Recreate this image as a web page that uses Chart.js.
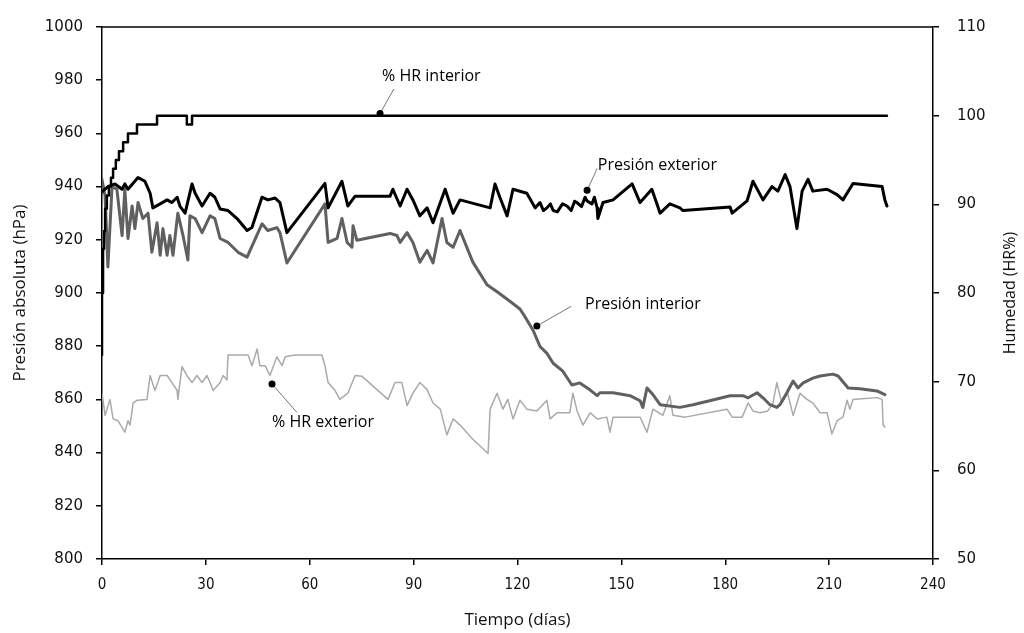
<!DOCTYPE html>
<html>
<head>
<meta charset="utf-8">
<script src="https://cdn.jsdelivr.net/npm/chart.js@4"></script>
<style>
  body { margin: 0; background: #fff; }
</style>
</head>
<body>
<canvas id="chart" width="1024" height="633"></canvas>
<script>
// % HR interior (right axis)
const hrIntDays = [0, 0.3, 0.6, 0.9, 1.4, 2.0, 2.6, 3.2, 4.0, 4.9, 6.1, 7.5, 10.1, 15.9, 24.5, 26.0, 28.3, 226.7];
const hrIntVals = [73, 80, 85, 87, 89.5, 91, 92, 93, 94, 95, 96, 97, 98, 99, 100, 99, 100, 100];

// Presión exterior (left axis)
const pExtDays = [0, 1.7, 3.75, 5.8, 6.6, 7.5, 10.4, 12.4, 13.9, 14.7, 16.8, 18.8, 20.2, 21.7, 22.5, 24, 26, 26.9, 28.9, 31.2,
  32.6, 34.1, 36.4, 39, 41.9, 43.3, 46.2, 47.9, 50, 51.4, 53.4, 64.4, 65.3, 69.3, 71, 73.1, 83.2, 84, 86.1, 88.1,
  89.8, 91.8, 93.9, 95.6, 99.1, 101.4, 103.4, 112.1, 113.5, 114.9, 117, 118.7, 122.7, 125.1, 126.5, 127.5, 128.5, 129.5, 130.3, 131.5,
  133, 134.3, 135.5, 136.5, 137.2, 138.5, 139.5, 140.1, 141.5, 142.2, 143,
  143.2, 144.7, 147.6, 153.1, 155.4, 158.8, 161.2, 164, 166.9, 167.8, 181.4, 182, 186.3, 188, 190.9, 193.5, 195.2, 197.3, 198.7, 200.7,
  202.2, 203.9, 205.3, 209.4, 212.3, 214, 216.9, 225.3, 226.1, 226.7];
const pExtVals = [938, 940, 941, 939, 941, 939, 943.4, 942, 937.5, 932, 933.5, 935, 934, 936, 932.7, 930, 941, 937.5, 932.7, 937.5,
  936, 931.6, 931, 928, 923.5, 924.6, 936, 935, 935.7, 934, 922.7, 941.2, 932, 942, 932.7, 936.4, 936.4, 939, 932.7, 939,
  935, 929, 932, 926.4, 939, 930, 935, 932, 941, 936, 929, 939, 937.5, 932, 934, 931, 932, 933.5, 931, 930.5,
  933.5, 932.7, 931, 934.5, 934, 932.5, 936, 934.6, 933.5, 936, 932,
  928, 934, 935, 941, 934, 939, 930, 933.5, 932, 931, 932.3, 930, 934.6, 942, 935, 940, 938.3, 944.5, 940, 924.2,
  938.3, 942.7, 938.3, 939, 937, 935, 941.2, 940, 935, 932.7];

// Presión interior (left axis)
const pIntDays = [0, 0.9, 1.7, 2.9, 4.3, 5.8, 6.6, 7.5, 8.7, 9.5, 10.4, 11.8, 13.3, 14.4, 15.9, 16.8, 17.6, 18.8, 19.6, 20.5,
  21.9, 23.4, 24.8, 25.4, 26.9, 28.9, 31.2, 32.6, 34.1, 36.4, 39.3, 41.9, 46.2, 47.9, 50.5, 51.4, 53.4, 64.4, 65.3, 67.9,
  69.3, 70.8, 72.2, 72.5, 73.6, 83.2, 85.2, 86.1, 88.1, 89.8, 91.8, 93.9, 95.6, 98.2, 99.6, 101.4, 103.4, 107.1, 111.2, 114.4,
  117.8, 120.7, 122.2, 124.5, 126.5, 128.5, 130.3, 133.1, 135.7, 138, 140.9, 143, 143.8, 147.6, 152.5, 155.4, 156.2, 157.4, 159.1, 161.2,
  166.9, 170.7, 181.4, 185.1, 186.6, 189.2, 190.9, 192.9, 194.9, 195.8, 197.8, 199.6, 201, 202.5, 205.3, 207.4, 211.1, 212.6, 215.5, 218.9,
  223.8, 226.1];
const pIntVals = [942.7, 936.4, 909.8, 940, 939, 921.6, 939, 920.5, 932.7, 924.2, 934, 928, 930, 915.3, 926.4, 914.2, 924.2, 914.2, 921.6, 914.2,
  930, 921.6, 912.4, 929, 928, 922.7, 929, 928, 920.5, 919, 915.3, 913.5, 926, 923.5, 924.6, 922.7, 911.3, 933.5, 919, 920.5,
  928, 919, 917.2, 925.3, 919.8, 922.4, 921.6, 919, 922.7, 919, 911.6, 916, 911.3, 928, 919, 917.2, 923.5, 911.6, 903.1, 900.2,
  896.9, 894, 891, 886, 879.9, 877.3, 873.6, 870.6, 865.4, 866.2, 863.6, 861.4, 862.5, 862.5, 861.4, 859.5, 857, 864.3, 861.8, 858,
  857, 858, 861.4, 861.4, 860.6, 862.5, 860.6, 858, 857, 858, 862.5, 866.9, 864.3, 866.2, 868, 868.8, 869.5, 868.8, 864.3, 864,
  863.2, 861.8];

// % HR exterior (right axis)
const hrExtDays = [0, 0.9, 2.3, 3.2, 4.6, 6.6, 7.5, 8.1, 9, 10.1, 13, 13.9, 15.3, 16.8, 18.8, 20.2, 21.7, 21.9, 23.1, 24.5,
  26, 27.4, 28.9, 30.3, 31.2, 32.1, 34.1, 35, 36.1, 36.4, 42.2, 43.3, 44.8, 45.6, 47.1, 48.5, 50.5, 52, 52.9, 55.7,
  63.5, 64.4, 65.3, 67.3, 68.7, 71, 73.1, 75.1, 82.6, 84, 84.6, 86.6, 88.1, 89.8, 91.8, 93.9, 95.6, 97.7, 99.6, 101.4,
  103.4, 107.1, 111.5, 112.1, 114.1, 115.8, 117.2, 118.7, 120.7, 122.7, 125.6, 128.5, 129.4, 131.4, 135.1, 136, 137.2, 138.9, 141, 143,
  145.8, 146.7, 147.6, 155.4, 157.4, 159.1, 162, 164, 164.9, 168.4, 180.5, 182, 184.9, 186.6, 188, 190, 192.3, 193.8, 194.9, 196.3,
  198, 199.6, 201.6, 203.6, 205.3, 207.4, 209.4, 210.8, 212.3, 214, 215.2, 216, 216.9, 223.8, 225.3, 225.6, 226.1];
const hrExtVals = [68.7, 66.2, 68, 65.8, 65.6, 64.3, 65.6, 65.1, 67.6, 67.9, 68, 70.7, 69, 70.7, 70.7, 69.9, 69, 68, 71.7, 70.7,
  69.9, 70.7, 69.9, 70.7, 69.9, 69, 69.9, 70.7, 70.2, 73, 73, 71.8, 73.7, 71.8, 71.8, 70.7, 72.8, 71.8, 72.8, 73,
  73, 71.8, 69.9, 69, 68, 68.7, 70.7, 70.6, 68, 69.3, 69.9, 69.9, 67.3, 68.7, 69.9, 69.1, 67.6, 66.9, 64, 65.8,
  65.1, 63.5, 61.9, 66.9, 68.7, 66.9, 68, 65.8, 67.9, 66.9, 66.7, 67.9, 65.8, 66.5, 66.5, 68.7, 66.7, 65.1, 66.5, 65.8,
  66, 64.3, 66, 66, 64.3, 66.9, 66.2, 68.4, 66.2, 66, 66.9, 66, 66, 67.6, 66.7, 66.5, 66.7, 67.6, 69.9, 67.6,
  68.7, 66.2, 68.7, 68, 67.6, 66.5, 66.5, 64.1, 65.6, 66, 67.9, 66.9, 68, 68.2, 68, 65.1, 64.9];

const xTicks = [0, 30, 60, 90, 120, 150, 180, 210, 240];

// callout labels: text position, dot position, leader end (days, hPa)
const callouts = [
  { text: '% HR interior', tx: 80.9, ty: 981.5, dx: 80.3, dy: 967.5, lx: 84.3, ly: 976.7 },
  { text: 'Presión exterior', tx: 143.2, ty: 947.9, dx: 140.1, dy: 938.6, lx: 143, ly: 946.8 },
  { text: 'Presión interior', tx: 139.5, ty: 895.7, dx: 125.6, dy: 887.6, lx: 135.5, ly: 895 },
  { text: '% HR exterior', tx: 49.1, ty: 851.4, dx: 49.1, dy: 865.8, lx: 56.3, ly: 855.1 }
];

const pts = (xs, ys) => xs.map((d, i) => ({ x: d, y: ys[i] }));

const calloutPlugin = {
  id: 'callouts',
  afterDatasetsDraw(chart) {
    const ctx = chart.ctx;
    const x = chart.scales.x, y = chart.scales.y;
    const a = chart.chartArea;
    ctx.save();
    // top frame line
    ctx.strokeStyle = '#000';
    ctx.lineWidth = 1.5;
    ctx.beginPath();
    ctx.moveTo(a.left, a.top);
    ctx.lineTo(a.right, a.top);
    ctx.stroke();

    ctx.font = '16px "Open Sans", sans-serif';
    ctx.textBaseline = 'middle';
    ctx.textAlign = 'left';
    callouts.forEach(c => {
      const px = x.getPixelForValue(c.dx), py = y.getPixelForValue(c.dy);
      ctx.strokeStyle = '#777';
      ctx.lineWidth = 1;
      ctx.beginPath();
      ctx.moveTo(px, py);
      ctx.lineTo(x.getPixelForValue(c.lx), y.getPixelForValue(c.ly));
      ctx.stroke();
      ctx.fillStyle = '#000';
      ctx.beginPath();
      ctx.arc(px, py, 3.5, 0, Math.PI * 2);
      ctx.fill();
      ctx.fillText(c.text, x.getPixelForValue(c.tx), y.getPixelForValue(c.ty));
    });

    // right axis title, reading bottom to top
    ctx.translate(1010, (a.top + a.bottom) / 2);
    ctx.rotate(-Math.PI / 2);
    ctx.font = '16px "Open Sans", sans-serif';
    ctx.fillStyle = '#111';
    ctx.textAlign = 'center';
    ctx.fillText('Humedad (HR%)', 0, 0);
    ctx.restore();
  }
};

const tickFont = { family: '"DejaVu Sans", sans-serif', size: 15 };
const narrowFont = { family: '"Liberation Sans Narrow", "DejaVu Sans Condensed", sans-serif', size: 15 };
const titleFont = { family: '"Open Sans", sans-serif', size: 17 };

new Chart(document.getElementById('chart'), {
  type: 'line',
  data: {
    datasets: [
      { label: '% HR interior', data: pts(hrIntDays, hrIntVals), yAxisID: 'y2', borderColor: '#000', borderWidth: 2.5, stepped: 'after' },
      { label: 'Presión exterior', data: pts(pExtDays, pExtVals), yAxisID: 'y', borderColor: '#000', borderWidth: 3 },
      { label: 'Presión interior', data: pts(pIntDays, pIntVals), yAxisID: 'y', borderColor: '#606060', borderWidth: 3 },
      { label: '% HR exterior', data: pts(hrExtDays, hrExtVals), yAxisID: 'y2', borderColor: '#aaaaaa', borderWidth: 1.5 }
    ]
  },
  options: {
    responsive: false,
    animation: false,
    parsing: false,
    layout: { padding: { top: 18, left: 0, right: 0, bottom: 0 } },
    elements: {
      point: { radius: 0 },
      line: { tension: 0, borderJoinStyle: 'round', borderCapStyle: 'round' }
    },
    plugins: { legend: { display: false }, tooltip: { enabled: false } },
    scales: {
      x: {
        type: 'linear', min: 0, max: 240,
        afterBuildTicks: s => { s.ticks = xTicks.map(v => ({ value: v })); },
        afterFit: s => { s.height = 74; },
        grid: { drawOnChartArea: false, tickLength: 6, color: '#000', lineWidth: 1.5 },
        border: { color: '#000', width: 1.5 },
        ticks: { font: narrowFont, color: '#111', padding: 11, maxRotation: 0 },
        title: { display: true, text: 'Tiempo (días)', font: titleFont, color: '#111', padding: { top: 0, bottom: 3 } }
      },
      y: {
        position: 'left', min: 800, max: 1000,
        ticks: { stepSize: 20, font: tickFont, color: '#111', padding: 13, callback: v => String(v) },
        afterFit: s => { s.width = 102; },
        grid: { drawOnChartArea: false, tickLength: 6, color: '#000', lineWidth: 1.5 },
        border: { color: '#000', width: 1.5 },
        title: { display: true, text: 'Presión absoluta (hPa)', font: titleFont, color: '#111', padding: { top: 10, bottom: 0 } }
      },
      y2: {
        position: 'right', min: 50, max: 110,
        ticks: { stepSize: 10, font: tickFont, color: '#111', padding: 18, callback: v => String(v) },
        afterFit: s => { s.width = 91; },
        grid: { drawOnChartArea: false, tickLength: 6, color: '#000', lineWidth: 1.5 },
        border: { color: '#000', width: 1.5 },
        title: { display: false }
      }
    }
  },
  plugins: [calloutPlugin]
});
</script>
</body>
</html>
